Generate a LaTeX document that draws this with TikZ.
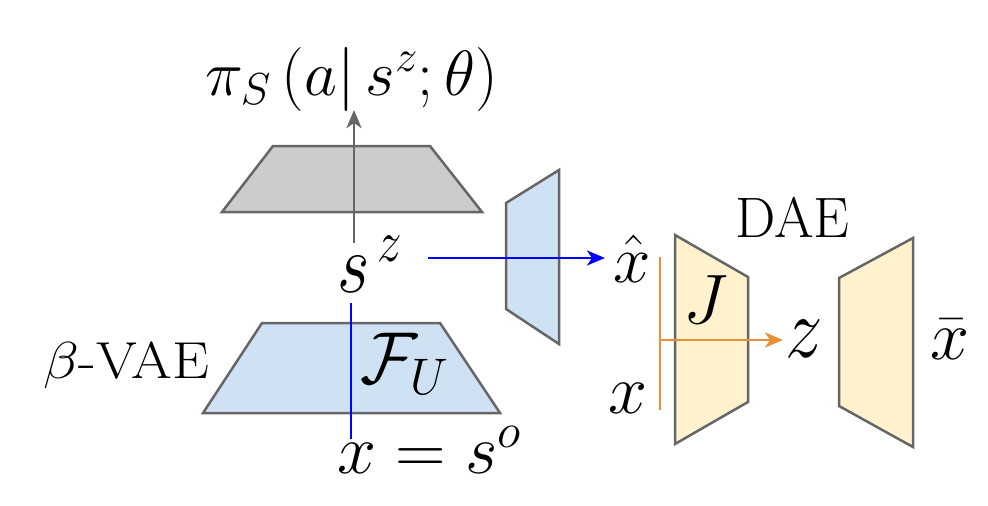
\RequirePackage{fix-cm}
\documentclass[tikz,border=0pt]{standalone}
\usetikzlibrary{arrows.meta}
\definecolor{edgegray}{HTML}{666666}
\definecolor{grayfill}{HTML}{CCCCCC}
\definecolor{bluefill}{HTML}{CFE2F3}
\definecolor{yellowfill}{HTML}{FFF2CC}
\definecolor{orangeline}{HTML}{E69138}
\definecolor{pureblue}{HTML}{0000FF}
\begin{document}
\begin{tikzpicture}[x=1pt,y=-1pt,
  every node/.style={inner sep=0pt, anchor=base west},
  mlabel/.style={font=\fontsize{70}{84}\selectfont},
  tlabel/.style={font=\fontsize{57}{68}\selectfont},
  block/.style={draw=edgegray, line width=2.5pt, line join=miter},
  conn/.style={line width=2.6pt},
  tip/.style={-{Stealth[length=18pt,width=15pt,inset=5pt]}}]
\useasboundingbox (0,0) rectangle (988,506);
% blocks
\draw[block, fill=grayfill] (273,146) -- (430,146) -- (482,212) -- (222,212) -- cycle;
\draw[block, fill=bluefill] (262,323) -- (440,323) -- (500,413) -- (203,413) -- cycle;
\draw[block, fill=bluefill] (506,203) -- (559,170) -- (559,344) -- (506,309) -- cycle;
\draw[block, fill=yellowfill] (675,235) -- (748,277) -- (748,402) -- (675,444) -- cycle;
\draw[block, fill=yellowfill] (839,278) -- (913,238) -- (913,447) -- (839,406) -- cycle;
% labels
\node[font=\fontsize{64}{77}\selectfont] (pi) at (205,95) {$\pi_S\,(a|\,s^z;\theta)$};
\node[mlabel, yscale=1.2] (sz) at (337,292) {$s^{\,z}$};
\node[font=\fontsize{52}{62}\selectfont, xscale=1.13] (vae) at (43,378) {$\beta$-VAE};
\node[mlabel, yscale=1.05] (FU) at (360,383) {$\mathcal{F}_U$};
\node[mlabel] (xso) at (337,473) {$x=s^o$};
\node[font=\fontsize{67}{80}\selectfont] (xhat) at (613,282) {$\hat{x}$};
\node[mlabel] (xin) at (608,413) {$x$};
\node[mlabel] (J) at (683,323) {$J$};
\node[font=\fontsize{75}{90}\selectfont, yscale=1.15] (z) at (785,357) {$z$};
\node[mlabel] (xbar) at (930,359) {$\bar{x}$};
\node[tlabel] (dae) at (735,237) {DAE};
% connector end points
\coordinate (gs) at (354,243);
\coordinate (ge) at (354,110);
\coordinate (bs) at (428,258);
\coordinate (be) at (605,258);
\coordinate (vs) at (351,303);
\coordinate (ve) at (351,439);
\coordinate (os) at (660,257);
\coordinate (oe) at (660,410);
\coordinate (as) at (660,340);
\coordinate (ae) at (783,340);
% connectors
\draw[conn, edgegray, tip] (gs) -- (ge);
\draw[conn, pureblue, tip] (bs) -- (be);
\draw[conn, pureblue] (vs) -- (ve);
\draw[conn, orangeline] (os) -- (oe);
\draw[conn, orangeline, tip] (as) -- (ae);
\end{tikzpicture}
\end{document}
